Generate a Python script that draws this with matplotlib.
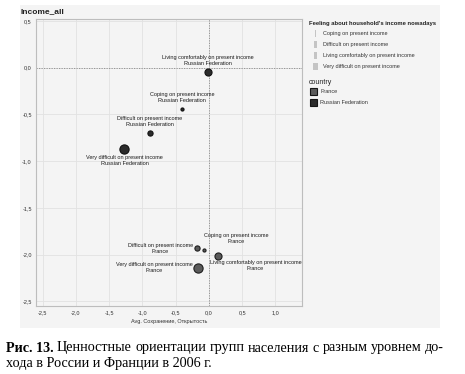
import matplotlib.pyplot as plt
from matplotlib.patches import Rectangle
from matplotlib.ticker import FuncFormatter, MultipleLocator

plt.rcParams['font.family'] = ['Liberation Sans', 'DejaVu Sans']

# data
income = ['Living comfortably on present income', 'Coping on present income',
          'Difficult on present income', 'Very difficult on present income',
          'Difficult on present income', 'Coping on present income',
          'Living comfortably on present income', 'Very difficult on present income']
country = ['Russian Federation'] * 4 + ['France'] * 4
x_vals = [-0.02, -0.40, -0.89, -1.27, -0.18, -0.07, 0.13, -0.16]
y_vals = [-0.05, -0.44, -0.70, -0.87, -1.93, -1.95, -2.02, -2.14]

legend_income = ['Coping on present income', 'Difficult on present income',
                 'Living comfortably on present income', 'Very difficult on present income']
legend_country = ['France', 'Russian Federation']

# styles
sizes = {'Coping on present income': 5, 'Difficult on present income': 14,
         'Living comfortably on present income': 26, 'Very difficult on present income': 44}
face = {'France': '#5a5a5a', 'Russian Federation': '#2b2b2b'}
edge = {'France': '#1e1e1e', 'Russian Federation': '#111111'}
# label placement (offset in pixels, ha, va)
place = [((0, 6), 'center', 'bottom'), ((0, 6), 'center', 'bottom'),
         ((0, 6), 'center', 'bottom'), ((0, -6), 'center', 'top'),
         ((-4, 0), 'right', 'center'), ((0, 6), 'left', 'bottom'),
         ((-8, -4), 'left', 'top'), ((-6, 0), 'right', 'center')]
small = 4.0

fig = plt.figure(figsize=(4.65, 3.74), dpi=100)
fig.patches.append(Rectangle((20 / 465, 1 - 328 / 374), 420 / 465, 323 / 374,
                             transform=fig.transFigure, facecolor='#f4f4f4',
                             edgecolor='none', zorder=-1))

ax = fig.add_axes([36 / 465, 1 - 306 / 374, 266 / 465, 287 / 374])
ax.set_zorder(1)
ax.set_facecolor('#f4f4f4')
ax.set_xlim(-2.6, 1.4)
ax.set_ylim(-2.55, 0.52)
ax.xaxis.set_major_locator(MultipleLocator(0.5))
ax.yaxis.set_major_locator(MultipleLocator(0.5))
fmt = FuncFormatter(lambda v, p: f'{v:.1f}'.replace('.', ',').replace('-0,0', '0,0'))
ax.xaxis.set_major_formatter(fmt)
ax.yaxis.set_major_formatter(fmt)
ax.tick_params(labelsize=small, length=0, pad=3, colors='#333333')
ax.grid(True, color='#e2e2e2', linewidth=0.6)
ax.set_axisbelow(True)
for s in ax.spines.values():
    s.set_color('#bdbdbd')
    s.set_linewidth(0.8)
ax.axvline(0, color='#8a8a8a', linestyle=(0, (1.5, 1.5)), linewidth=0.6)
ax.axhline(0, color='#8a8a8a', linestyle=(0, (1.5, 1.5)), linewidth=0.6)

for xv, yv, inc, c, (off, ha, va) in zip(x_vals, y_vals, income, country, place):
    ax.scatter(xv, yv, s=sizes[inc], color=face[c], edgecolor=edge[c],
               linewidth=0.8, zorder=3)
    ax.annotate(f'{inc}\n{c}', (xv, yv), xytext=off, textcoords='offset pixels',
                ha=ha, va=va, multialignment='center', fontsize=small,
                color='#1a1a1a', linespacing=1.25)

ax.set_xlabel('Avg. Сохранение, Открытость', fontsize=small, color='#333333', labelpad=3)
fig.text(20 / 465, 1 - 12 / 374, 'Income_all', fontsize=6, fontweight='bold',
         color='#222222', va='center', ha='left')

# legend drawn by hand
fig.text(309 / 465, 1 - 24 / 374, "Feeling about household's income nowadays",
         fontsize=4.2, fontweight='bold', color='#222222', va='center')
for i, lab in enumerate(legend_income):
    yc = 33.5 + i * 11
    w = 1 + i * 1.2
    fig.patches.append(Rectangle(((315.5 - w / 2) / 465, 1 - (yc + 3.5) / 374),
                                 w / 465, 7 / 374, transform=fig.transFigure,
                                 facecolor='#c4c4c4', edgecolor='none'))
    fig.text(323 / 465, 1 - yc / 374, lab, fontsize=small, color='#333333', va='center')
fig.text(309 / 465, 1 - 82 / 374, 'country', fontsize=5, color='#222222', va='center')
for i, lab in enumerate(legend_country):
    yc = 91.5 + i * 11
    fig.patches.append(Rectangle((310 / 465, 1 - (yc + 3.5) / 374), 7 / 465, 7 / 374,
                                 transform=fig.transFigure, facecolor=face[lab],
                                 edgecolor='#151515', linewidth=0.8))
    fig.text(320 / 465, 1 - yc / 374, lab, fontsize=small, color='#333333', va='center')

# caption, justified first line
serif = 'Liberation Serif'
cap_size = 10.2
line1 = ['Рис. 13.', 'Ценностные', 'ориентации', 'групп', 'населения', 'с', 'разным',
         'уровнем', 'до-']
renderer = fig.canvas.get_renderer()
texts = []
for j, w in enumerate(line1):
    t = fig.text(0, 1 - 348 / 374, w, fontsize=cap_size, family=serif, va='center',
                 fontweight='bold' if j == 0 else 'normal')
    texts.append(t)
widths = [t.get_window_extent(renderer).width for t in texts]
left, right = 6, 444
gap = (right - left - sum(widths)) / (len(texts) - 1)
xpos = left
for t, w in zip(texts, widths):
    t.set_x(xpos / 465)
    xpos += w + gap
fig.text(6 / 465, 1 - 364 / 374, 'хода в России и Франции в 2006 г.', fontsize=cap_size,
         family=serif, va='center')

fig.savefig('out.png', dpi=100, facecolor='white')
